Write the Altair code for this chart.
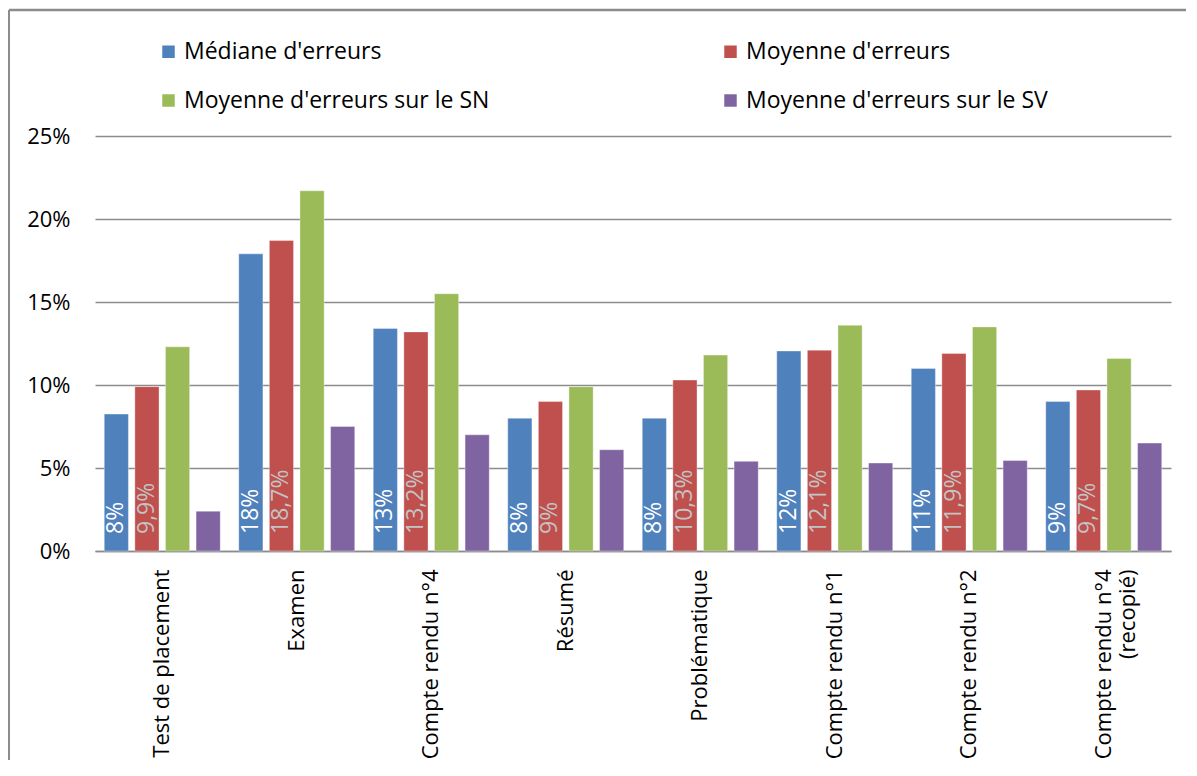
import altair as alt
import pandas as pd

categories = ["Test de placement", "Examen", "Compte rendu n°4", "Résumé",
              "Problématique", "Compte rendu n°1", "Compte rendu n°2",
              "Compte rendu n°4 (recopié)"]
series = ["Médiane d'erreurs", "Moyenne d'erreurs",
          "Moyenne d'erreurs sur le SN", "Moyenne d'erreurs sur le SV"]
mediane = [8.25, 17.9, 13.4, 8.0, 8.0, 12.05, 11.0, 9.0]
moyenne = [9.9, 18.7, 13.2, 9.0, 10.3, 12.1, 11.9, 9.7]
moyenne_sn = [12.3, 21.7, 15.5, 9.9, 11.8, 13.6, 13.5, 11.6]
moyenne_sv = [2.4, 7.5, 7.0, 6.1, 5.4, 5.3, 5.45, 6.5]
mediane_labels = ["8%", "18%", "13%", "8%", "8%", "12%", "11%", "9%"]
moyenne_labels = ["9,9%", "18,7%", "13,2%", "9%", "10,3%", "12,1%", "11,9%", "9,7%"]
colors = ["#4F81BD", "#C0504D", "#9BBB59", "#8064A2"]

rows = []
for s_idx, (name, vals) in enumerate(zip(series, [mediane, moyenne, moyenne_sn, moyenne_sv])):
    for c_idx, cat in enumerate(categories):
        lab = ""
        if s_idx == 0:
            lab = mediane_labels[c_idx]
        elif s_idx == 1:
            lab = moyenne_labels[c_idx]
        rows.append({"cat": cat, "series": name, "s": s_idx,
                     "value": vals[c_idx] / 100.0, "label": lab})
df = pd.DataFrame(rows)

FONT = "Open Sans"
W, H = 1076, 415

x_enc = alt.X("cat:N", sort=categories,
              scale=alt.Scale(paddingInner=0.1375, paddingOuter=0.06875),
              axis=alt.Axis(title=None, labelAngle=-90, labelPadding=18, ticks=False,
                            labelFontSize=22, labelColor="black", labelLimit=400,
                            domainColor="#8c8c8c", domainWidth=1.5,
                            labelExpr="datum.label == 'Compte rendu n°4 (recopié)' ? ['Compte rendu n°4', '(recopié)'] : datum.label"))
xo_enc = alt.XOffset("series:N", sort=series,
                     scale=alt.Scale(paddingInner=0.21, paddingOuter=0))
y_scale = alt.Scale(domain=[0, 0.25], nice=False)

bars = alt.Chart(df).mark_bar(stroke="white", strokeWidth=0.6, strokeOpacity=0.6).encode(
    x=x_enc,
    xOffset=xo_enc,
    y=alt.Y("value:Q", scale=y_scale,
            axis=alt.Axis(title=None, format=".0%", values=[0, 0.05, 0.1, 0.15, 0.2, 0.25],
                          domain=False, ticks=False, labelPadding=25, labelFontSize=22,
                          labelColor="black", gridColor="#8c8c8c", gridWidth=1.5)),
    color=alt.Color("series:N", sort=series,
                    scale=alt.Scale(domain=series, range=colors),
                    legend=alt.Legend(title=None, orient="none", legendX=62, legendY=-96,
                                      direction="horizontal", columns=2, columnPadding=229,
                                      rowPadding=25, symbolType="square", symbolSize=156,
                                      symbolStrokeWidth=0, labelFontSize=23, labelOffset=4,
                                      labelColor="black", labelLimit=600)),
)

labels = alt.Chart(df).transform_filter("datum.s < 2").mark_text(
    angle=270, align="left", baseline="middle", dx=17, fontSize=23, font=FONT
).encode(
    x=alt.X("cat:N", sort=categories),
    xOffset=alt.XOffset("series:N", sort=series),
    y=alt.datum(0),
    text="label:N",
    color=alt.condition("datum.s == 0", alt.value("white"), alt.value("#C3C3C3")),
)

one = pd.DataFrame({"k": [0]})
border_top = alt.Chart(one).mark_rule(color="#8c8c8c", strokeWidth=2.5).encode(
    x=alt.value(-86), x2=alt.value(1100), y=alt.value(-126), y2=alt.value(-126))
border_left = alt.Chart(one).mark_rule(color="#8c8c8c", strokeWidth=2).encode(
    x=alt.value(-86), x2=alt.value(-86), y=alt.value(-126), y2=alt.value(700))

chart = alt.layer(bars, labels, border_top, border_left).properties(
    width=W, height=H,
    autosize=alt.AutoSizeParams(type="none"),
    padding={"left": 87, "top": 128, "right": 15, "bottom": 209},
).configure(font=FONT).configure_view(stroke=None).configure_legend(
    labelFont=FONT).configure_axis(labelFont=FONT)

chart.save("out.html", embed_options={"renderer": "svg", "actions": False})
